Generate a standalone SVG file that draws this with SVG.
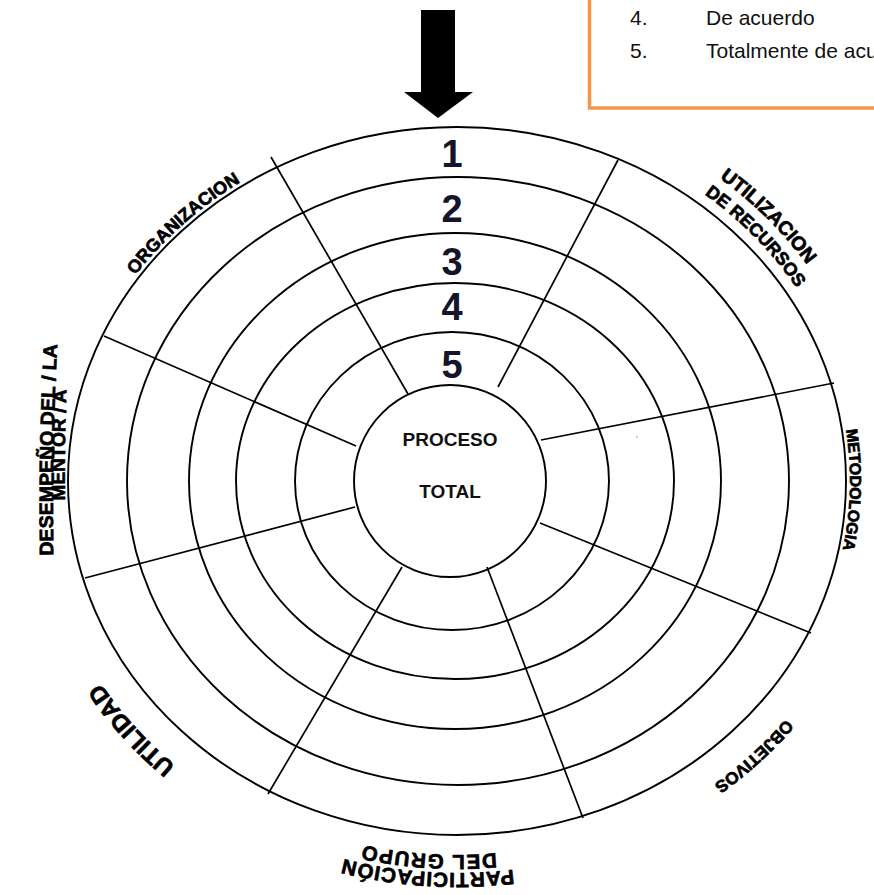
<svg xmlns="http://www.w3.org/2000/svg" width="874" height="895" viewBox="0 0 874 895">
<style>
.ring{fill:none;stroke:#000;stroke-width:1.9}
.spoke{stroke:#000;stroke-width:1.7;fill:none}
.lbl{font-family:"Liberation Sans",Arial,sans-serif;font-weight:bold;fill:#000;stroke:#000;stroke-width:0.7;stroke-linejoin:round}
.num{font-family:"Liberation Sans",Arial,sans-serif;font-weight:bold;font-size:38px;fill:#14142b;text-anchor:middle}
.ctr{font-family:"Liberation Sans",Arial,sans-serif;font-weight:bold;font-size:19px;fill:#111;text-anchor:middle}
.leg{font-family:"Liberation Sans",Arial,sans-serif;font-size:21px;fill:#111}
</style>
<defs>
<path id="pOrg" d="M100.8,329.7 A393,358 0 0 1 303.5,151.5"/>
<path id="pUtil" d="M648.6,136.2 A422,387 0 0 1 848.3,336.0"/>
<path id="pRec" d="M644.8,158.7 A400,365 0 0 1 827.9,344.3"/>
<path id="pMet" d="M828.6,364.4 A393,358 0 0 1 823.9,609.3"/>
<path id="pObj" d="M836.7,643.3 A419,384 0 0 1 634.1,829.0"/>
<path id="pPart" d="M574.7,857.8 A427,392 0 0 1 283.3,839.1"/>
<path id="pGrupo" d="M569.7,840.5 A409,374 0 0 1 290.7,822.6"/>
<path id="pUtilidad" d="M247.5,813.5 A419,384 0 0 1 60.8,606.0"/>
<path id="pDes" d="M54,585 A3000,3000 0 0 1 59,315"/>
<path id="pMen" d="M66,565 A3000,3000 0 0 1 69,325"/>
</defs>
<rect width="874" height="895" fill="#fff"/>

<g id="legend">
<rect x="589.5" y="-10" width="300" height="118" fill="#fff" stroke="#f79646" stroke-width="3.5"/>
<text class="leg" x="630" y="25">4.</text>
<text class="leg" x="706" y="25">De acuerdo</text>
<text class="leg" x="630" y="58">5.</text>
<text class="leg" x="706" y="58">Totalmente de acuerdo</text>
</g>

<g id="arrow">
<polygon points="421,10 455,10 455,92 473,92 438,118 404,92 421,92" fill="#000"/>
</g>

<g id="rings">
<ellipse class="ring" cx="457" cy="481" rx="389" ry="354"/>
<ellipse class="ring" cx="458" cy="481" rx="331" ry="304"/>
<ellipse class="ring" cx="455" cy="481" rx="266" ry="248"/>
<ellipse class="ring" cx="455" cy="481" rx="219" ry="198"/>
<ellipse class="ring" cx="452" cy="481" rx="157" ry="149"/>
</g>

<g id="connectors">
<path class="spoke" d="M271,157 L408,394"/>
<path class="spoke" d="M618,160 L498,387"/>
<path class="spoke" d="M541,440 L834,383"/>
<path class="spoke" d="M540,523 L811,633"/>
<path class="spoke" d="M487,567 L583,818"/>
<path class="spoke" d="M402,567 L268,794"/>
<path class="spoke" d="M355,507 L85,578"/>
<path class="spoke" d="M104,336 L356,446"/>
</g>

<g id="center">
<ellipse class="ring" cx="450" cy="481" rx="96" ry="96"/>
<text class="ctr" x="450" y="446">PROCESO</text>
<text class="ctr" x="450" y="498">TOTAL</text>
</g>

<g id="scale">
<text class="num" x="452" y="167">1</text>
<text class="num" x="452" y="222">2</text>
<text class="num" x="452" y="275">3</text>
<text class="num" x="452" y="320">4</text>
<text class="num" x="452" y="378">5</text>
</g>

<g id="label-organizacion"><text class="lbl" font-size="18" text-anchor="middle"><textPath href="#pOrg" startOffset="49%">ORGANIZACION</textPath></text></g>
<g id="label-utilizacion"><text class="lbl" font-size="19.5" text-anchor="middle"><textPath href="#pUtil" startOffset="50%">UTILIZACION</textPath></text>
<text class="lbl" font-size="18" text-anchor="middle"><textPath href="#pRec" startOffset="51%">DE RECURSOS</textPath></text></g>
<g id="label-metodologia"><text class="lbl" font-size="16" text-anchor="middle"><textPath href="#pMet" startOffset="51%">METODOLOGIA</textPath></text></g>
<g id="label-objetivos"><text class="lbl" font-size="17" text-anchor="middle"><textPath href="#pObj" startOffset="50%">OBJETIVOS</textPath></text></g>
<g id="label-participacion"><text class="lbl" font-size="20.5" letter-spacing="1" text-anchor="middle"><textPath href="#pPart" startOffset="50%">PARTICIPACIÓN</textPath></text>
<text class="lbl" font-size="20.5" letter-spacing="1.5" text-anchor="middle"><textPath href="#pGrupo" startOffset="50%">DEL GRUPO</textPath></text></g>
<g id="label-utilidad"><text class="lbl" font-size="24" text-anchor="middle"><textPath href="#pUtilidad" startOffset="50%">UTILIDAD</textPath></text></g>
<g id="label-desempeno"><text class="lbl" font-size="19.5" text-anchor="middle"><textPath href="#pDes" startOffset="50%">DESEMPEÑO DEL / LA</textPath></text>
<text class="lbl" font-size="19" text-anchor="middle"><textPath href="#pMen" startOffset="50%">MENTOR / A</textPath></text></g>

<circle cx="637" cy="437" r="0.8" fill="#888"/>
</svg>
